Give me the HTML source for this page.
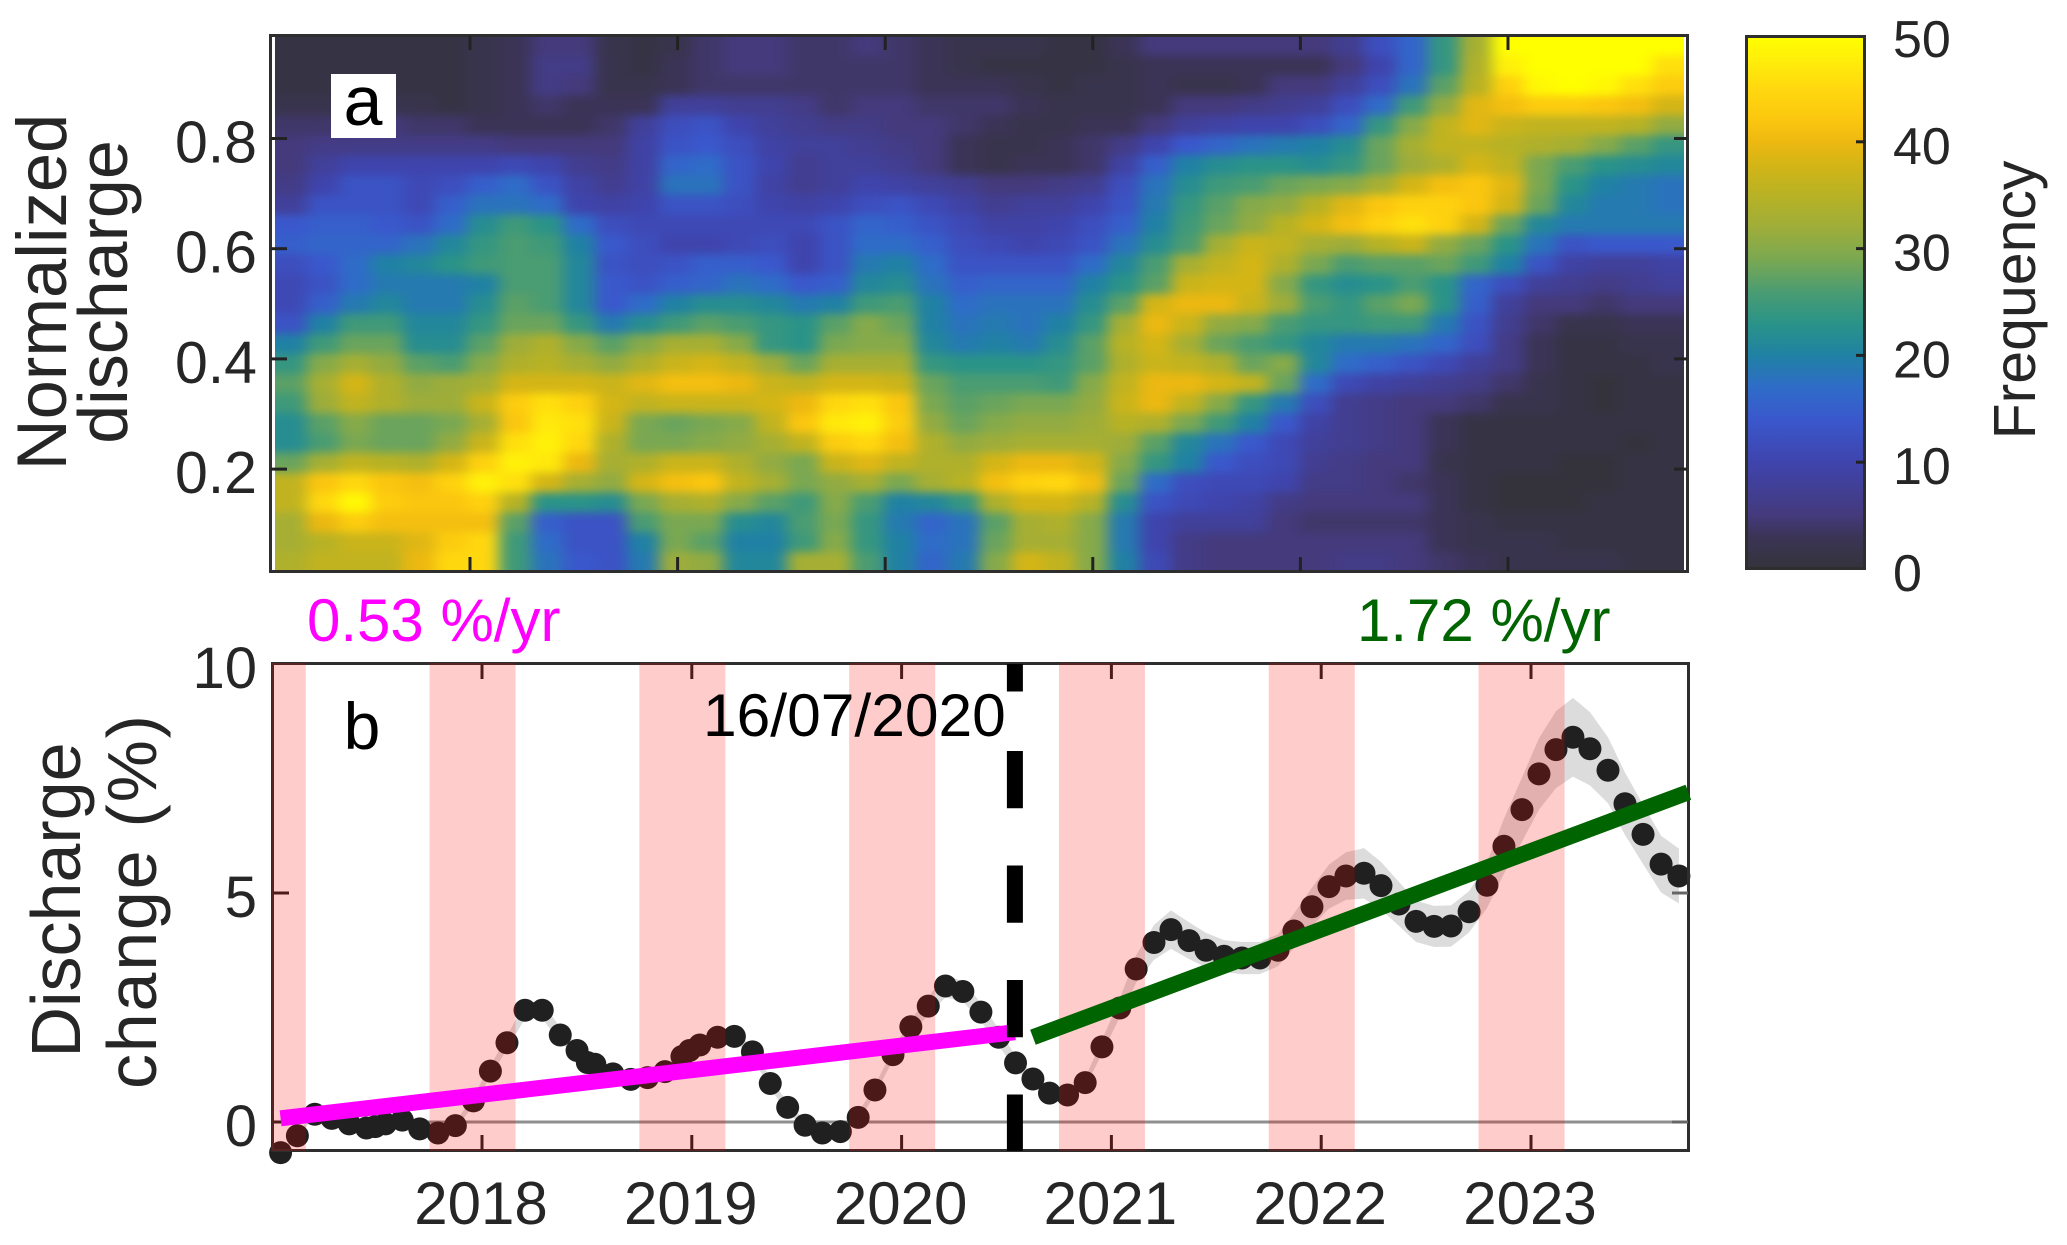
<!DOCTYPE html>
<html lang="en">
<head>
<meta charset="utf-8">
<title>Discharge frequency and change</title>
<style>
html,body{margin:0;padding:0;background:#fff;width:2067px;height:1245px;overflow:hidden}
svg{display:block;font-family:"Liberation Sans",sans-serif}
text{fill:#262626}
</style>
</head>
<body>
<svg id="chart" xmlns="http://www.w3.org/2000/svg" width="2067" height="1245" viewBox="0 0 2067 1245">
  <defs>
    <clipPath id="heat-clip"><rect x="275" y="36" width="1409" height="536"/></clipPath>
    <clipPath id="b-clip"><rect x="272" y="663" width="1417" height="488"/></clipPath>
    <filter id="heat-blur" filterUnits="userSpaceOnUse" x="150" y="-100" width="1660" height="800" color-interpolation-filters="sRGB">
      <feGaussianBlur stdDeviation="7.5 4.5"/>
    </filter>
    <linearGradient id="cbar-gradient" x1="0" y1="1" x2="0" y2="0"></linearGradient>
  </defs>

  <g id="panel-a">
    <g clip-path="url(#heat-clip)"><g id="heat-cells" filter="url(#heat-blur)"></g></g>
    <rect x="270.500" y="35.500" width="1417" height="536" fill="none" stroke="#2e2e2e" stroke-width="3"/>
    <g id="a-ticks"></g>
    <rect x="331" y="74" width="65" height="64" fill="#fff"/>
    <text x="363" y="125" font-size="70" text-anchor="middle" fill="#000" style="fill:#000">a</text>
    <text transform="translate(66,292) rotate(-90)" font-size="70.500" text-anchor="middle">Normalized</text>
    <text transform="translate(127,292) rotate(-90)" font-size="70" text-anchor="middle">discharge</text>
  </g>

  <g id="colorbar">
    <rect x="1746.500" y="36.500" width="118" height="532" fill="url(#cbar-gradient)" stroke="#2e2e2e" stroke-width="3"/>
    <g id="cbar-ticks"></g>
    <text transform="translate(2035,300) rotate(-90)" font-size="59" text-anchor="middle">Frequency</text>
  </g>

  <text x="307" y="641" font-size="60" style="fill:#ff00ff">0.53 %/yr</text>
  <text x="1357" y="641" font-size="60" style="fill:#006400">1.72 %/yr</text>

  <g id="panel-b">
    <path id="ci-band" fill="#dcdcdc"></path>
    <line id="zero-line" stroke="#8f8f8f" stroke-width="3"></line>
    <g id="dots"></g>
    <rect x="272.500" y="663.500" width="1416" height="487" fill="none" stroke="#2e2e2e" stroke-width="3"/>
    <g id="b-ticks"></g>
    <g id="season-bands" clip-path="url(#b-clip)"></g>
    <line id="early-trend" stroke="#ff00ff" stroke-width="16"></line>
    <line id="late-trend" stroke="#006400" stroke-width="16"></line>
    <g id="break-dashes"></g>
    <text x="703" y="736" font-size="60.500" style="fill:#000">16/07/2020</text>
    <text x="362" y="749" font-size="66" text-anchor="middle" style="fill:#000">b</text>
    <text transform="translate(80,900) rotate(-90)" font-size="70" text-anchor="middle">Discharge</text>
    <text transform="translate(156,902) rotate(-90)" font-size="70" text-anchor="middle" textLength="374" lengthAdjust="spacing">change (%)</text>
  </g>
</svg>

<script>
// ---------- Panel a: heatmap (rows top to bottom, columns left to right) ----------
const heatmapValues = [
[1,1,1,1,1,1,2,3,5,5,2,1,2,4,5,5,4,4,5,4,3,2,2,2,1,1,3,5,5,5,5,5,5,7,12,16,24,33,50,50,50,50,50,50],
[1,1,1,1,1,1,2,3,6,6,2,1,3,4,5,5,4,4,4,4,3,2,1,1,1,1,2,3,3,3,3,3,3,5,10,16,24,34,48,50,50,50,50,46],
[1,1,1,1,1,1,2,3,6,5,2,2,3,4,4,4,4,4,4,4,3,3,3,2,1,2,2,3,2,2,3,5,5,8,12,18,27,35,44,49,50,49,46,43],
[2,2,2,2,2,1,2,3,4,3,3,3,8,8,7,7,6,4,5,5,4,4,4,3,2,2,2,3,5,5,6,7,8,12,17,25,31,39,41,43,43,42,41,38],
[4,4,5,5,4,4,3,3,3,3,4,8,12,13,10,8,7,6,6,5,5,4,3,2,2,3,3,5,8,9,10,10,12,16,24,30,36,39,37,36,36,36,35,31],
[5,6,6,6,6,6,6,5,5,5,5,9,13,14,12,9,8,8,7,6,5,3,2,2,3,4,6,10,14,16,18,19,20,22,28,33,36,36,35,34,33,30,27,24],
[5,8,10,10,10,10,10,11,10,7,6,9,16,17,13,10,7,8,8,7,5,3,2,3,3,4,9,15,20,22,23,23,22,24,28,32,34,38,36,29,26,23,22,21],
[6,10,13,13,11,12,15,17,13,9,7,9,18,18,13,9,7,8,10,9,8,7,5,5,6,7,12,18,22,25,26,28,29,30,33,38,41,42,39,29,23,20,19,18],
[8,13,13,13,11,15,18,18,17,10,9,10,13,13,12,10,9,10,12,13,11,9,7,8,8,10,13,19,24,27,30,31,35,39,42,44,44,42,38,28,21,19,19,18],
[14,15,15,14,13,17,22,25,23,17,12,11,11,11,11,11,11,13,16,15,13,11,9,9,10,12,15,20,25,28,31,35,38,41,44,46,44,38,28,21,19,19,19,19],
[15,16,16,16,18,21,24,26,25,20,14,12,10,10,11,12,10,13,17,17,15,12,11,10,11,13,18,22,26,33,37,36,33,32,35,37,31,28,23,18,13,14,14,14],
[12,14,17,20,21,23,25,26,26,21,13,12,13,15,15,14,10,13,19,20,17,13,13,13,13,17,21,26,33,36,38,34,29,26,27,27,28,25,20,13,9,8,8,9],
[11,13,17,19,19,19,20,26,26,21,14,13,15,16,18,17,14,15,21,22,18,15,16,16,16,20,23,27,37,38,38,30,24,22,23,26,23,16,12,8,7,6,7,8],
[11,15,19,21,19,19,22,27,26,21,14,17,20,22,22,21,19,20,25,26,20,17,18,18,18,22,27,38,40,40,37,32,26,24,27,29,23,15,8,5,5,4,5,5],
[13,20,25,25,21,21,24,28,28,24,19,22,25,27,26,24,23,27,30,28,20,18,19,18,20,24,33,40,37,31,30,26,24,24,25,25,19,13,7,4,2,2,3,3],
[20,25,28,28,22,22,27,32,34,30,27,30,33,33,30,24,23,29,30,30,21,19,20,19,22,27,35,38,33,28,26,24,21,19,19,18,16,12,6,3,1,1,2,2],
[24,30,33,31,27,26,30,34,35,33,31,34,37,38,36,32,28,33,33,33,24,23,23,23,24,27,34,37,36,34,28,30,21,17,15,13,11,8,6,3,1,1,1,2],
[27,33,38,34,31,32,33,38,38,38,37,39,41,41,40,37,36,38,38,37,28,26,26,26,25,30,36,40,40,38,36,28,17,11,9,8,7,6,4,2,1,0,1,1],
[25,32,36,34,32,32,37,43,46,44,38,36,37,37,37,38,40,45,46,42,29,27,28,29,29,31,37,40,36,30,24,19,12,7,6,5,5,4,2,2,1,0,1,1],
[22,27,30,28,28,29,33,42,47,46,37,29,28,29,30,36,42,47,48,43,31,28,30,31,31,32,35,34,29,25,20,14,9,7,6,5,3,1,1,1,1,1,1,1],
[22,26,29,28,28,31,37,46,48,45,34,29,29,30,31,33,36,43,45,41,34,31,32,33,33,33,32,27,21,18,14,11,8,7,6,5,3,1,1,1,1,1,0,1],
[28,33,36,35,34,38,44,48,47,40,33,34,37,37,34,31,29,37,39,36,34,34,38,40,40,38,30,24,20,14,12,11,7,6,5,5,2,1,1,1,0,0,1,1],
[36,42,45,42,41,44,48,46,38,33,31,38,41,42,36,33,29,31,33,29,33,35,41,44,45,41,28,17,12,11,11,10,6,6,5,4,3,1,0,0,0,0,1,1],
[36,45,49,43,42,42,44,35,23,23,22,29,33,34,30,27,25,30,26,20,21,24,34,38,38,35,22,13,11,10,9,6,5,5,5,5,3,1,0,0,0,1,1,1],
[33,40,43,41,41,41,41,27,15,13,13,26,29,29,22,21,26,29,24,19,16,18,27,33,34,30,19,10,8,8,8,5,4,4,4,4,3,2,1,1,1,1,1,1],
[33,35,37,37,39,43,45,25,17,13,13,20,29,27,20,20,25,30,24,20,17,18,28,33,33,30,19,10,6,5,5,5,5,5,5,5,3,2,2,2,1,1,1,1],
[34,36,36,36,40,45,45,25,18,14,13,19,32,31,21,21,33,33,26,20,16,19,30,38,36,30,20,11,6,5,5,5,5,6,6,5,4,3,2,2,2,2,1,1]
];
const colormapLevels = [0,3,5,8,10,14,17,20,23,26,29,32,35,38,40,42,45,48,50];
const colormapColors = ['#34333c','#3b3456','#443a7c','#41409a','#3f44ad','#3a58cc','#2f6cc8','#2081a4','#2a9388','#4a9c72','#7aa852','#9ead3a','#b7b225','#d4b516','#ecb811','#fbc60f','#ffd70f','#fff00a','#ffff00'];
const heatYTicks = [0.2,0.4,0.6,0.8];
const heatXTicks = [2018,2019,2020,2021,2022,2023];
const colorbarTicks = [0,10,20,30,40,50];

// ---------- Panel b: discharge change ----------
const dates = [
2017.04,2017.12,2017.203,2017.284,2017.367,2017.449,2017.491,2017.54,2017.62,2017.703,2017.79,2017.873,2017.959,
2018.04,2018.119,2018.205,2018.287,2018.373,2018.453,2018.502,2018.538,2018.624,2018.709,2018.789,2018.872,2018.953,2018.989,
2019.038,2019.123,2019.203,2019.289,2019.374,2019.457,2019.54,2019.622,2019.708,2019.793,2019.873,2019.959,
2020.044,2020.127,2020.209,2020.292,2020.378,2020.463,2020.543,2020.626,2020.705,2020.791,2020.875,2020.955,
2021.04,2021.118,2021.203,2021.284,2021.37,2021.451,2021.537,2021.622,2021.708,2021.794,2021.87,2021.956,
2022.037,2022.118,2022.204,2022.285,2022.371,2022.452,2022.538,2022.619,2022.705,2022.79,2022.871,2022.957,
2023.038,2023.119,2023.2,2023.281,2023.367,2023.448,2023.534,2023.62,2023.705];
const dischargeChange = [
-0.67,-0.3,0.17,0.08,-0.04,-0.13,-0.1,-0.04,0.04,-0.15,-0.24,-0.08,0.46,
1.11,1.73,2.44,2.44,1.9,1.56,1.3,1.26,1.05,0.93,0.97,1.1,1.43,1.56,
1.68,1.85,1.87,1.53,0.84,0.32,-0.07,-0.24,-0.21,0.1,0.7,1.47,
2.08,2.53,2.97,2.85,2.4,1.85,1.29,0.94,0.63,0.59,0.86,1.64,
2.49,3.34,3.92,4.2,3.96,3.75,3.62,3.58,3.58,3.75,4.17,4.7,
5.14,5.37,5.43,5.16,4.76,4.38,4.27,4.28,4.59,5.17,6.02,
6.82,7.6,8.13,8.4,8.15,7.68,6.95,6.28,5.63,5.37];
const changeUncertainty = [
0.05,0.05,0.05,0.05,0.05,0.05,0.05,0.05,0.05,0.05,0.06,0.08,0.1,
0.12,0.14,0.18,0.18,0.16,0.14,0.14,0.14,0.12,0.1,0.1,0.1,0.1,0.1,
0.1,0.1,0.1,0.12,0.12,0.1,0.1,0.1,0.1,0.1,0.1,0.12,
0.15,0.2,0.25,0.22,0.2,0.18,0.15,0.12,0.1,0.1,0.1,0.15,
0.2,0.3,0.38,0.42,0.4,0.38,0.35,0.35,0.35,0.35,0.38,0.42,
0.48,0.52,0.55,0.52,0.48,0.45,0.45,0.45,0.45,0.5,0.6,
0.7,0.78,0.84,0.86,0.8,0.72,0.68,0.65,0.62,0.6];
const seasonStarts = [2016.75,2017.75,2018.75,2019.75,2020.75,2021.75,2022.75];
const seasonEnds = [2017.16,2018.16,2019.16,2020.16,2021.16,2022.16,2023.16];
const changeYTicks = [0,5,10];
const changeXTicks = [2018,2019,2020,2021,2022,2023];
const breakDate = [2020.54];
const breakDashFrom = [10.0,8.1,5.6,3.1,0.6];
const breakDashTo = [9.4,6.85,4.35,1.85,-0.63];
const earlyTrendYears = [2017.04,2020.54];
const earlyTrendValues = [0.08,1.96];
const lateTrendYears = [2020.626,2023.75];
const lateTrendValues = [1.85,7.2];

// ---------- Scales ----------
const SVGNS = 'http://www.w3.org/2000/svg';
const heatLeft = 275, heatRight = 1684, heatTop = 36, heatBottom = 572;
const ax = y => 470 + 207.6 * (y - 2018);
const ay = v => 579.3 - 551 * v;
const bx = y => 482 + 209.8 * (y - 2018);
const by = v => 1122 - 45.8 * v;
const cy = v => 569 - 10.68 * v;

function make(tag, attrs, parent) {
  const el = document.createElementNS(SVGNS, tag);
  for (const k in attrs) el.setAttribute(k, attrs[k]);
  parent.appendChild(el);
  return el;
}
function hexToRgb(h) { return [1, 3, 5].map(i => parseInt(h.substr(i, 2), 16)); }
function colorFor(v) {
  const clamped = Math.max(0, Math.min(50, v));
  let i = 0;
  while (i < colormapLevels.length - 2 && clamped > colormapLevels[i + 1]) i++;
  const t = (clamped - colormapLevels[i]) / (colormapLevels[i + 1] - colormapLevels[i]);
  const a = hexToRgb(colormapColors[i]), b = hexToRgb(colormapColors[i + 1]);
  return 'rgb(' + a.map((c, k) => Math.round(c + (b[k] - c) * t)).join(',') + ')';
}

// ---------- Heatmap cells ----------
const heatGroup = document.getElementById('heat-cells');
const rowCount = heatmapValues.length;
heatmapValues.forEach((row, r) => {
  const cw = (heatRight - heatLeft) / row.length, ch = (heatBottom - heatTop) / rowCount;
  row.forEach((v, c) => {
    const pad = 60;
    const x0 = heatLeft + c * cw - (c === 0 ? pad : 0);
    const x1 = heatLeft + (c + 1) * cw + (c === row.length - 1 ? pad : 0.6);
    const y0 = heatTop + r * ch - (r === 0 ? pad : 0);
    const y1 = heatTop + (r + 1) * ch + (r === rowCount - 1 ? pad : 0.6);
    const cell = make('rect', { x: x0, y: y0, width: x1 - x0, height: y1 - y0, fill: colorFor(v) }, heatGroup);
    
    
  });
});

// ---------- Panel a ticks ----------
const aTicks = document.getElementById('a-ticks');
heatXTicks.forEach(y => {
  const top = make('line', { x1: ax(y), x2: ax(y), y1: 36, y2: 50, stroke: '#222', 'stroke-width': 3 }, aTicks);
  
  
  const bot = make('line', { x1: ax(y), x2: ax(y), y1: 557, y2: 571, stroke: '#222', 'stroke-width': 3 }, aTicks);
  
  
});
heatYTicks.forEach(v => {
  const left = make('line', { x1: 271, x2: 287, y1: ay(v), y2: ay(v), stroke: '#222', 'stroke-width': 3 }, aTicks);
  
  
  const right = make('line', { x1: 1674, x2: 1687, y1: ay(v), y2: ay(v), stroke: '#222', 'stroke-width': 3 }, aTicks);
  
  
  const label = make('text', { x: 257, y: ay(v) + 24, 'font-size': 59, 'text-anchor': 'end' }, aTicks);
  
  
  label.textContent = v.toFixed(1);
});

// ---------- Colorbar ----------
const grad = document.getElementById('cbar-gradient');
colormapLevels.forEach((lv, i) => {
  make('stop', { offset: (lv / 50 * 100) + '%', 'stop-color': colormapColors[i] }, grad);
});
const cTicks = document.getElementById('cbar-ticks');
colorbarTicks.forEach(v => {
  if (v > 0 && v < 50) {
    const t = make('line', { x1: 1856, x2: 1865, y1: cy(v), y2: cy(v), stroke: '#222', 'stroke-width': 3 }, cTicks);
    
    
  }
  const label = make('text', { x: 1893, y: cy(v) + 22, 'font-size': 52 }, cTicks);
  
  
  label.textContent = v;
});

// ---------- Panel b marks ----------
let upper = [], lower = [];
dates.forEach((d, i) => {
  upper.push(bx(d) + ',' + by(dischargeChange[i] + changeUncertainty[i]));
  lower.unshift(bx(d) + ',' + by(dischargeChange[i] - changeUncertainty[i]));
});
document.getElementById('ci-band').setAttribute('d', 'M' + upper.join('L') + 'L' + lower.join('L') + 'Z');

const zero = document.getElementById('zero-line');
zero.setAttribute('x1', 272);
zero.setAttribute('x2', 1689);
zero.setAttribute('y1', by(0));
zero.setAttribute('y2', by(0));

const dotGroup = document.getElementById('dots');
dates.forEach((d, i) => {
  const dot = make('circle', { cx: bx(d), cy: by(dischargeChange[i]), r: 11.5, fill: '#202020' }, dotGroup);
  
  
});

const bandGroup = document.getElementById('season-bands');
seasonStarts.forEach((s, i) => {
  const band = make('rect', { x: bx(s), y: 663, width: bx(seasonEnds[i]) - bx(s), height: 488, fill: 'rgba(255,0,0,0.2)' }, bandGroup);
  
  
});

const bTicks = document.getElementById('b-ticks');
changeXTicks.forEach(y => {
  const top = make('line', { x1: bx(y), x2: bx(y), y1: 664, y2: 679, stroke: '#222', 'stroke-width': 3 }, bTicks);
  
  
  const bot = make('line', { x1: bx(y), x2: bx(y), y1: 1135, y2: 1150, stroke: '#222', 'stroke-width': 3 }, bTicks);
  
  
  const label = make('text', { x: bx(y) - 1, y: 1224, 'font-size': 60, 'text-anchor': 'middle' }, bTicks);
  
  
  label.textContent = y;
});
changeYTicks.forEach(v => {
  if (v < 10) {
    const left = make('line', { x1: 273, x2: 289, y1: by(v), y2: by(v), stroke: '#222', 'stroke-width': 3 }, bTicks);
    
    
    const right = make('line', { x1: 1672, x2: 1688, y1: by(v), y2: by(v), stroke: '#666', 'stroke-width': 3 }, bTicks);
    
    
  }
  const label = make('text', { x: 257, y: by(v) + 24, 'font-size': 58, 'text-anchor': 'end' }, bTicks);
  
  
  label.textContent = v;
});

function setLine(id, xs, ys) {
  const l = document.getElementById(id);
  l.setAttribute('x1', bx(xs[0]));
  l.setAttribute('y1', by(ys[0]));
  l.setAttribute('x2', bx(xs[1]));
  l.setAttribute('y2', by(ys[1]));
}
setLine('early-trend', earlyTrendYears, earlyTrendValues);
setLine('late-trend', lateTrendYears, lateTrendValues);

const dashGroup = document.getElementById('break-dashes');
breakDashFrom.forEach((v, i) => {
  const dash = make('line', { x1: bx(breakDate[0]), x2: bx(breakDate[0]), y1: by(v), y2: by(breakDashTo[i]), stroke: '#000', 'stroke-width': 16 }, dashGroup);
  
  
});
</script>
</body>
</html>
